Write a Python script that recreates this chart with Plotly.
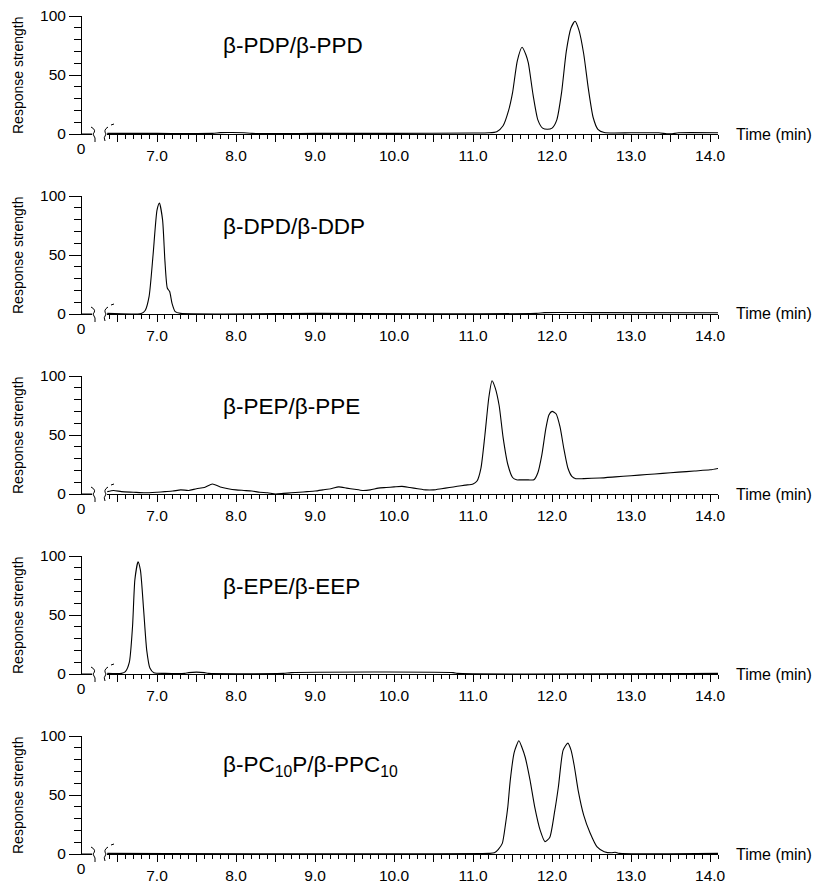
import plotly.graph_objects as go

# Chromatogram data (time in min, response 0-100)
titles = ["β-PDP/β-PPD", "β-DPD/β-DDP", "β-PEP/β-PPE", "β-EPE/β-EEP",
          "β-PC<sub>10</sub>P/β-PPC<sub>10</sub>"]

t_pdp = [6.37, 7.0, 7.7, 7.8, 7.95, 8.1, 8.2, 9.0, 10.0, 11.0, 11.2, 11.3, 11.38, 11.45,
         11.5, 11.56, 11.62, 11.67, 11.7, 11.76, 11.82, 11.88, 11.94, 12.0, 12.06, 12.12,
         12.18, 12.24, 12.29, 12.34, 12.4, 12.46, 12.52, 12.58, 12.66, 13.0, 13.35, 13.45,
         13.52, 13.6, 14.1]
r_pdp = [0.5, 0.5, 0.5, 1.2, 1.3, 1.0, 0.5, 0.5, 0.5, 0.8, 1.0, 2, 7, 20,
         35, 62, 73.5, 67, 60, 33, 12, 5, 4, 5, 12, 35,
         70, 90, 95.5, 88, 68, 38, 14, 4, 1.2, 1.0, 1.0, 0.2,
         0.2, 1.0, 1.0]

t_dpd = [6.37, 6.8, 6.85, 6.9, 6.95, 7.0, 7.03, 7.07, 7.1, 7.13, 7.16, 7.19, 7.23, 7.3,
         9.0, 11.8, 11.9, 12.5, 14.1]
r_dpd = [0.5, 0.5, 3, 15, 50, 88, 94, 80, 45, 22, 19, 9, 2, 0.5,
         0.5, 0.5, 1.2, 1.2, 1.0]

t_pep = [6.37, 6.45, 6.55, 6.7, 6.85, 7.0, 7.1, 7.2, 7.3, 7.4, 7.5, 7.6, 7.7, 7.8, 7.9,
         8.0, 8.1, 8.2, 8.3, 8.4, 8.5, 8.6, 8.7, 8.8, 8.9, 9.0, 9.1, 9.2, 9.3, 9.4, 9.5,
         9.6, 9.7, 9.8, 9.9, 10.0, 10.1, 10.2, 10.3, 10.4, 10.5, 10.6, 10.7, 10.8, 10.9,
         11.0, 11.05, 11.1, 11.15, 11.2, 11.24, 11.28, 11.33, 11.38, 11.44, 11.5, 11.55,
         11.6, 11.7, 11.77, 11.82, 11.87, 11.92, 11.96, 12.0, 12.05, 12.1, 12.15, 12.2,
         12.25, 12.3, 12.4, 12.6, 12.8, 13.0, 13.2, 13.4, 13.6, 13.8, 14.0, 14.13]
r_pep = [2, 3, 2, 1.5, 1, 1.5, 2, 2.5, 3.5, 3, 4.5, 5.5, 8.5, 6, 4.5,
         3.5, 3, 2.5, 1.5, 1, 0, 0.5, 1, 1.5, 2, 2.5, 3.5, 4.5, 6, 5, 4,
         3, 3.5, 5, 5.5, 6, 6.5, 5.5, 4.5, 3.5, 3.5, 4.5, 5.5, 6.5, 7.5,
         8.5, 11, 22, 50, 82, 96, 90, 75, 48, 25, 14, 12,
         12, 12, 12, 18, 33, 55, 67, 70, 68, 57, 38, 22,
         15, 13, 13, 13.5, 14.5, 15.5, 16.5, 17.5, 18.5, 19.5, 20.5, 22]

t_epe = [6.37, 6.55, 6.6, 6.65, 6.69, 6.72, 6.76, 6.79, 6.83, 6.87, 6.91, 6.96, 7.1,
         7.35, 7.4, 7.6, 7.65, 8.6, 8.7, 10.75, 10.8, 14.1]
r_epe = [0.5, 0.5, 2, 10, 40, 80, 95, 88, 55, 20, 5, 1, 0.5,
         0.5, 1.2, 1.2, 0.5, 0.5, 1.2, 1.2, 0.5, 0.5]

t_pc10 = [6.37, 11.2, 11.27, 11.32, 11.37, 11.41, 11.44, 11.47, 11.52, 11.58, 11.62,
          11.66, 11.72, 11.78, 11.85, 11.91, 11.97, 12.03, 12.08, 12.14, 12.2, 12.24,
          12.28, 12.33, 12.4, 12.48, 12.57, 12.66, 12.75, 12.8, 12.85, 14.1]
r_pc10 = [0.5, 0.5, 1, 4, 9, 25, 40, 62, 86, 96, 90,
          82, 63, 40, 20, 10.5, 14, 35, 57, 88, 94, 88,
          75, 54, 33, 18, 6, 2, 1, 1.5, 0.5, 0.5]

series = [(t_pdp, r_pdp), (t_dpd, r_dpd), (t_pep, r_pep), (t_epe, r_epe), (t_pc10, r_pc10)]

# start of the run, shown before the axis break
stub_time = [0.0, 0.14]
stub_resp = [0.0, 0.0]

x_ticks = [7.0, 8.0, 9.0, 10.0, 11.0, 12.0, 13.0, 14.0]
x_labels = ["7.0", "8.0", "9.0", "10.0", "11.0", "12.0", "13.0", "14.0"]
x_half_ticks = [6.5, 7.5, 8.5, 9.5, 10.5, 11.5, 12.5, 13.5]
y_ticks = [0, 50, 100]

W, H = 814, 890
FONT = "Liberation Sans, Arial, sans-serif"
TICK_FONT = dict(size=15.5, color="black", family=FONT)


def px_x(p):
    return p / W


def px_y(p):
    return 1 - p / H


fig = go.Figure()
layout = {}
shapes = []
annotations = []

for r, (t, resp) in enumerate(series):
    zero = 134 + 180 * r
    top = 16 + 180 * r
    ya = f"y{r + 1}" if r else "y"
    xm = f"x{2 * r + 1}" if r else "x"
    xs = f"x{2 * r + 2}"

    fig.add_trace(go.Scatter(x=t, y=resp, xaxis=xm, yaxis=ya, mode="lines",
                             line=dict(color="black", width=1.1, shape="spline", smoothing=0.6),
                             showlegend=False, hoverinfo="skip"))
    fig.add_trace(go.Scatter(x=stub_time, y=stub_resp, xaxis=xs, yaxis=ya, mode="lines",
                             line=dict(color="black", width=1), showlegend=False, hoverinfo="skip"))

    layout["yaxis" + (str(r + 1) if r else "")] = dict(
        domain=[px_y(zero), px_y(top)], range=[0, 100], anchor="free", position=px_x(81),
        showline=True, linecolor="black", linewidth=1, showgrid=False, zeroline=False,
        ticks="outside", ticklen=12, tickcolor="black", tickvals=y_ticks, automargin=False,
        minor=dict(dtick=10, ticklen=7, ticks="outside", tickcolor="black", showgrid=False),
        tickfont=TICK_FONT)
    layout["xaxis" + (str(2 * r + 1) if r else "")] = dict(
        domain=[px_x(107), px_x(718)], range=[6.367, 14.10], anchor=ya,
        showline=True, linecolor="black", linewidth=1, showgrid=False, zeroline=False,
        ticks="outside", ticklen=7, tickcolor="black", tickvals=x_ticks, ticktext=x_labels,
        minor=dict(dtick=0.1, tick0=0, ticklen=4, ticks="outside", tickcolor="black", showgrid=False),
        tickfont=TICK_FONT, automargin=False)
    layout[f"xaxis{2 * r + 2}"] = dict(
        domain=[px_x(81), px_x(92)], range=[0, 0.139], anchor=ya,
        showline=True, linecolor="black", linewidth=1, showgrid=False, zeroline=False,
        ticks="", tickvals=[0], ticktext=["0"], automargin=False,
        tickfont=TICK_FONT)
    # longer unlabelled ticks at the half minutes
    layout[f"xaxis{11 + r}"] = dict(
        domain=[px_x(107), px_x(718)], range=[6.367, 14.10], anchor=ya, overlaying=xm,
        showline=False, showgrid=False, zeroline=False, showticklabels=False, automargin=False,
        ticks="outside", ticklen=7, tickcolor="black", tickvals=x_half_ticks)
    fig.add_trace(go.Scatter(x=t[:1], y=resp[:1], xaxis=f"x{11 + r}", yaxis=ya, mode="lines",
                             line=dict(color="black", width=1), showlegend=False, hoverinfo="skip"))

    # axis break marks
    p1 = (f"M {px_x(91)},{px_y(zero - 7)} Q {px_x(97)},{px_y(zero - 4)} {px_x(93)},{px_y(zero)} "
          f"Q {px_x(96)},{px_y(zero + 4)} {px_x(95)},{px_y(zero + 8)}")
    p2 = (f"M {px_x(108)},{px_y(zero - 7)} Q {px_x(103)},{px_y(zero - 4)} {px_x(106)},{px_y(zero)} "
          f"Q {px_x(103)},{px_y(zero + 4)} {px_x(105)},{px_y(zero + 7)}")
    p3 = f"M {px_x(111)},{px_y(zero - 9)} L {px_x(114)},{px_y(zero - 10)}"
    for p in (p1, p2, p3):
        shapes.append(dict(type="path", path=p, xref="paper", yref="paper",
                           line=dict(color="black", width=1)))

    annotations.append(dict(text=titles[r], x=px_x(221), y=px_y(46 + 180 * r), xref="paper",
                            yref="paper", xanchor="left", yanchor="middle", showarrow=False,
                            font=dict(size=22.5, color="black", family=FONT)))
    annotations.append(dict(text="Time (min)", x=px_x(734), y=px_y(zero), xref="paper",
                            yref="paper", xanchor="left", yanchor="middle", showarrow=False,
                            font=dict(size=16, color="black", family=FONT)))
    annotations.append(dict(text="Response strength", x=px_x(18), y=px_y(75 + 180 * r),
                            xref="paper", yref="paper", xanchor="center", yanchor="middle",
                            textangle=-90, showarrow=False,
                            font=dict(size=14, color="black", family=FONT)))

fig.update_layout(**layout)
fig.update_layout(
    template="none",
    width=W, height=H, margin=dict(l=0, r=0, t=0, b=0, pad=0, autoexpand=False),
    paper_bgcolor="white", plot_bgcolor="white",
    shapes=shapes, annotations=annotations,
)

# drop the default page margin so the figure fills the window exactly
fig.write_html("out.html", config={"displayModeBar": False},
               post_script="document.body.style.margin='0';document.body.style.overflow='hidden';")
